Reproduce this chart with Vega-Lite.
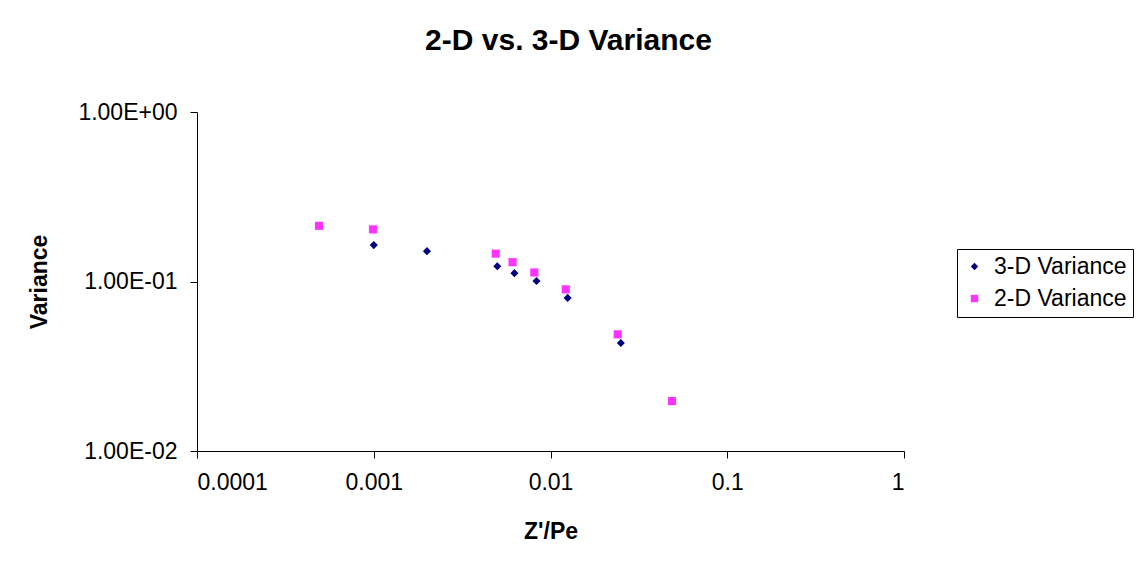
{
  "$schema": "https://vega.github.io/schema/vega-lite/v6.json",
  "autosize": "none",
  "width": 707,
  "height": 339,
  "padding": {"left": 197, "top": 112, "right": 233, "bottom": 111},
  "background": "white",
  "config": {
    "font": "Liberation Sans",
    "view": {"stroke": null},
    "axis": {"grid": false, "domainColor": "#000000", "tickColor": "#000000", "labelColor": "#000000", "titleColor": "#000000", "labelFontSize": 23, "titleFontSize": 23, "titleFontWeight": "bold", "tickSize": 7, "labelFont": "Liberation Sans", "titleFont": "Liberation Sans"}
  },
  "title": {"text": "2-D vs. 3-D Variance", "fontSize": 30, "fontWeight": "bold", "font": "Liberation Sans", "color": "#000000", "anchor": "middle", "dx": 18, "offset": 45},
  "data": {"values": [
    {"x": 0.001, "v": 0.164, "s": "3-D Variance"},
    {"x": 0.002, "v": 0.151, "s": "3-D Variance"},
    {"x": 0.005, "v": 0.123, "s": "3-D Variance"},
    {"x": 0.00625, "v": 0.112, "s": "3-D Variance"},
    {"x": 0.00833, "v": 0.1007, "s": "3-D Variance"},
    {"x": 0.0125, "v": 0.080, "s": "3-D Variance"},
    {"x": 0.025, "v": 0.0434, "s": "3-D Variance"},
    {"x": 0.00049, "v": 0.213, "s": "2-D Variance"},
    {"x": 0.00099, "v": 0.203, "s": "2-D Variance"},
    {"x": 0.0049, "v": 0.146, "s": "2-D Variance"},
    {"x": 0.0061, "v": 0.130, "s": "2-D Variance"},
    {"x": 0.0081, "v": 0.113, "s": "2-D Variance"},
    {"x": 0.0122, "v": 0.0899, "s": "2-D Variance"},
    {"x": 0.024, "v": 0.0488, "s": "2-D Variance"},
    {"x": 0.0487, "v": 0.0197, "s": "2-D Variance"}
  ]},
  "mark": {"type": "point", "filled": true, "opacity": 1},
  "encoding": {
    "x": {"field": "x", "type": "quantitative", "title": "Z'/Pe",
      "scale": {"type": "log", "domain": [0.0001, 1], "nice": false},
      "axis": {"values": [0.0001, 0.001, 0.01, 0.1, 1], "labelExpr": "toString(datum.value)", "labelPadding": 13, "titlePadding": 26}},
    "y": {"field": "v", "type": "quantitative", "title": "Variance",
      "scale": {"type": "log", "domain": [0.01, 1], "nice": false},
      "axis": {"values": [0.01, 0.1, 1], "labelExpr": "datum.value > 0.5 ? '1.00E+00' : (datum.value > 0.05 ? '1.00E-01' : '1.00E-02')", "labelPadding": 13, "titlePadding": 26}},
    "color": {"field": "s", "type": "nominal",
      "scale": {"domain": ["3-D Variance", "2-D Variance"], "range": ["#000080", "#FF33FF"]},
      "legend": {"title": null, "orient": "none", "legendX": 760, "legendY": 137, "labelFontSize": 23, "labelFont": "Liberation Sans", "labelColor": "#000000", "strokeColor": "#000000", "padding": 6, "rowPadding": 8, "labelOffset": 8, "symbolSize": 55, "fillColor": "white"}},
    "shape": {"field": "s", "type": "nominal",
      "scale": {"domain": ["3-D Variance", "2-D Variance"], "range": ["diamond", "square"]}},
    "size": {"value": 66}
  }
}
